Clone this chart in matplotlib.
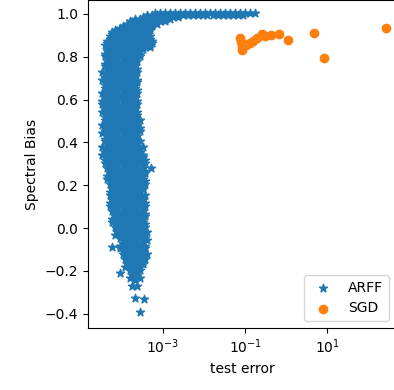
import matplotlib
matplotlib.use("Agg")
import matplotlib.pyplot as plt
import numpy as np
from matplotlib.ticker import NullLocator

# ARFF runs (spectral bias level -> test errors)
arff_bias_rows = [
    1.005, 0.995, 0.985, 0.975, 0.965, 0.955, 0.945, 0.935, 0.925, 0.915, 0.905,
    0.895, 0.885, 0.875, 0.865, 0.855, 0.845, 0.835, 0.825, 0.815, 0.805, 0.7925,
    0.78, 0.7675, 0.755, 0.7425, 0.73, 0.7175, 0.705, 0.6925, 0.68, 0.6675, 0.655,
    0.6425, 0.63, 0.6175, 0.605, 0.5925, 0.58, 0.5675, 0.555, 0.5425, 0.53, 0.5175,
    0.505, 0.4925, 0.48, 0.4675, 0.455, 0.4425, 0.43, 0.4175, 0.405, 0.3925, 0.38,
    0.3675, 0.355, 0.3425, 0.33, 0.3175, 0.305, 0.2925, 0.28, 0.2675, 0.255, 0.2425,
    0.23, 0.2175, 0.205, 0.1925, 0.18, 0.1675, 0.155, 0.1425, 0.13, 0.1175, 0.105,
    0.0925, 0.08, 0.0675, 0.055, 0.0425, 0.03, 0.0175, 0.005, -0.0075, -0.02, -0.0325,
    -0.045, -0.0575, -0.07, -0.0825, -0.095, -0.1075, -0.12, -0.1325, -0.145, -0.1575,
    -0.17, -0.1825, -0.195, -0.2075, -0.22, -0.2325, -0.245, -0.27]
arff_err_rows = [
    [6.40e-4, 8.47e-4, 1.12e-3, 1.48e-3, 1.96e-3, 2.60e-3, 3.44e-3, 4.55e-3, 6.03e-3, 7.97e-3,
     1.06e-2, 1.40e-2, 1.85e-2, 2.45e-2, 3.24e-2, 4.29e-2, 5.68e-2, 7.51e-2, 9.94e-2, 0.132, 0.174],
    [4.20e-4, 5.56e-4, 7.36e-4, 9.75e-4, 1.29e-3, 1.71e-3, 2.26e-3, 2.99e-3, 3.96e-3, 5.24e-3,
     6.93e-3, 9.17e-3, 1.21e-2, 1.61e-2, 2.13e-2, 2.82e-2, 3.73e-2, 4.93e-2, 6.53e-2, 8.64e-2],
    [3.18e-4, 4.20e-4, 5.56e-4, 7.36e-4, 9.75e-4, 1.29e-3, 1.71e-3, 2.26e-3],
    [2.08e-4, 2.76e-4, 3.65e-4, 4.84e-4, 6.40e-4, 8.47e-4, 1.12e-3, 1.48e-3],
    [1.58e-4, 2.08e-4, 2.76e-4, 3.65e-4, 4.84e-4, 6.40e-4, 8.47e-4, 1.12e-3],
    [1.37e-4, 1.81e-4, 2.40e-4, 3.18e-4, 4.20e-4, 5.56e-4, 7.36e-4],
    [1.04e-4, 1.37e-4, 1.81e-4, 2.40e-4, 3.18e-4, 4.20e-4, 5.56e-4],
    [9.00e-5, 1.19e-4, 1.58e-4, 2.08e-4, 2.76e-4, 3.65e-4, 4.84e-4],
    [6.80e-5, 9.00e-5, 1.19e-4, 1.58e-4, 2.08e-4, 2.76e-4, 3.65e-4, 4.84e-4],
    [5.91e-5, 7.82e-5, 1.04e-4, 1.37e-4, 1.81e-4, 2.40e-4, 3.18e-4, 4.20e-4],
    [5.91e-5, 7.82e-5, 1.04e-4, 1.37e-4, 1.81e-4, 2.40e-4, 3.18e-4, 4.20e-4],
    [5.13e-5, 6.80e-5, 9.00e-5, 1.19e-4, 1.58e-4, 2.08e-4, 2.76e-4, 3.65e-4, 4.84e-4],
    [5.13e-5, 6.80e-5, 9.00e-5, 1.19e-4, 1.58e-4, 2.08e-4, 2.76e-4, 3.65e-4, 4.84e-4],
    [4.46e-5, 5.91e-5, 7.82e-5, 1.04e-4, 1.37e-4, 1.81e-4, 2.40e-4, 3.18e-4, 4.20e-4, 5.56e-4],
    [4.46e-5, 5.91e-5, 7.82e-5, 1.04e-4, 1.37e-4, 1.81e-4, 2.40e-4, 3.18e-4, 4.20e-4, 5.56e-4],
    [3.88e-5, 5.13e-5, 6.80e-5, 9.00e-5, 1.19e-4, 1.58e-4, 2.08e-4, 2.76e-4, 3.65e-4, 4.84e-4],
    [5.13e-5, 6.80e-5, 9.00e-5, 1.19e-4, 1.58e-4, 2.08e-4, 2.76e-4, 3.65e-4, 4.84e-4],
    [4.46e-5, 5.91e-5, 7.82e-5, 1.04e-4, 1.37e-4, 1.81e-4, 2.40e-4, 3.18e-4],
    [4.46e-5, 5.91e-5, 7.82e-5, 1.04e-4, 1.37e-4, 1.81e-4, 2.40e-4],
    [3.88e-5, 5.13e-5, 6.80e-5, 9.00e-5, 1.19e-4, 1.58e-4, 2.08e-4, 2.76e-4],
    [3.88e-5, 5.13e-5, 6.80e-5, 9.00e-5, 1.19e-4, 1.58e-4, 2.08e-4, 2.76e-4],
    [4.46e-5, 5.91e-5, 7.82e-5, 1.04e-4, 1.37e-4, 1.81e-4, 2.40e-4],
    [4.46e-5, 5.91e-5, 7.82e-5, 1.04e-4, 1.37e-4, 1.81e-4, 2.40e-4],
    [3.88e-5, 5.13e-5, 6.80e-5, 9.00e-5, 1.19e-4, 1.58e-4, 2.08e-4],
    [3.88e-5, 5.13e-5, 6.80e-5, 9.00e-5, 1.19e-4, 1.58e-4, 2.08e-4],
    [4.46e-5, 5.91e-5, 7.82e-5, 1.04e-4, 1.37e-4, 1.81e-4, 2.40e-4],
    [3.37e-5, 4.46e-5, 5.91e-5, 7.82e-5, 1.04e-4, 1.37e-4, 1.81e-4, 2.40e-4],
    [3.88e-5, 5.13e-5, 6.80e-5, 9.00e-5, 1.19e-4, 1.58e-4, 2.08e-4],
    [3.88e-5, 5.13e-5, 6.80e-5, 9.00e-5, 1.19e-4, 1.58e-4, 2.08e-4],
    [3.37e-5, 4.46e-5, 5.91e-5, 7.82e-5, 1.04e-4, 1.37e-4, 1.81e-4, 2.40e-4],
    [4.46e-5, 5.91e-5, 7.82e-5, 1.04e-4, 1.37e-4, 1.81e-4, 2.40e-4],
    [3.88e-5, 5.13e-5, 6.80e-5, 9.00e-5, 1.19e-4, 1.58e-4, 2.08e-4],
    [3.88e-5, 5.13e-5, 6.80e-5, 9.00e-5, 1.19e-4, 1.58e-4, 2.08e-4],
    [4.46e-5, 5.91e-5, 7.82e-5, 1.04e-4, 1.37e-4, 1.81e-4, 2.40e-4],
    [3.37e-5, 4.46e-5, 5.91e-5, 7.82e-5, 1.04e-4, 1.37e-4, 1.81e-4, 2.40e-4],
    [3.88e-5, 5.13e-5, 6.80e-5, 9.00e-5, 1.19e-4, 1.58e-4, 2.08e-4],
    [3.88e-5, 5.13e-5, 6.80e-5, 9.00e-5, 1.19e-4, 1.58e-4, 2.08e-4],
    [3.37e-5, 4.46e-5, 5.91e-5, 7.82e-5, 1.04e-4, 1.37e-4, 1.81e-4, 2.40e-4],
    [3.37e-5, 4.46e-5, 5.91e-5, 7.82e-5, 1.04e-4, 1.37e-4, 1.81e-4, 2.40e-4],
    [3.88e-5, 5.13e-5, 6.80e-5, 9.00e-5, 1.19e-4, 1.58e-4, 2.08e-4],
    [3.88e-5, 5.13e-5, 6.80e-5, 9.00e-5, 1.19e-4, 1.58e-4, 2.08e-4],
    [3.37e-5, 4.46e-5, 5.91e-5, 7.82e-5, 1.04e-4, 1.37e-4, 1.81e-4, 2.40e-4],
    [4.46e-5, 5.91e-5, 7.82e-5, 1.04e-4, 1.37e-4, 1.81e-4, 2.40e-4],
    [3.88e-5, 5.13e-5, 6.80e-5, 9.00e-5, 1.19e-4, 1.58e-4, 2.08e-4],
    [3.88e-5, 5.13e-5, 6.80e-5, 9.00e-5, 1.19e-4, 1.58e-4, 2.08e-4, 2.76e-4],
    [4.46e-5, 5.91e-5, 7.82e-5, 1.04e-4, 1.37e-4, 1.81e-4, 2.40e-4],
    [3.37e-5, 4.46e-5, 5.91e-5, 7.82e-5, 1.04e-4, 1.37e-4, 1.81e-4, 2.40e-4],
    [3.88e-5, 5.13e-5, 6.80e-5, 9.00e-5, 1.19e-4, 1.58e-4, 2.08e-4, 2.76e-4],
    [3.88e-5, 5.13e-5, 6.80e-5, 9.00e-5, 1.19e-4, 1.58e-4, 2.08e-4, 2.76e-4],
    [3.37e-5, 4.46e-5, 5.91e-5, 7.82e-5, 1.04e-4, 1.37e-4, 1.81e-4, 2.40e-4],
    [4.46e-5, 5.91e-5, 7.82e-5, 1.04e-4, 1.37e-4, 1.81e-4, 2.40e-4],
    [3.88e-5, 5.13e-5, 6.80e-5, 9.00e-5, 1.19e-4, 1.58e-4, 2.08e-4],
    [3.88e-5, 5.13e-5, 6.80e-5, 9.00e-5, 1.19e-4, 1.58e-4, 2.08e-4, 2.76e-4],
    [4.46e-5, 5.91e-5, 7.82e-5, 1.04e-4, 1.37e-4, 1.81e-4, 2.40e-4],
    [3.37e-5, 4.46e-5, 5.91e-5, 7.82e-5, 1.04e-4, 1.37e-4, 1.81e-4, 2.40e-4, 3.18e-4],
    [3.88e-5, 5.13e-5, 6.80e-5, 9.00e-5, 1.19e-4, 1.58e-4, 2.08e-4, 2.76e-4],
    [3.88e-5, 5.13e-5, 6.80e-5, 9.00e-5, 1.19e-4, 1.58e-4, 2.08e-4, 2.76e-4],
    [3.37e-5, 4.46e-5, 5.91e-5, 7.82e-5, 1.04e-4, 1.37e-4, 1.81e-4, 2.40e-4, 3.18e-4],
    [4.46e-5, 5.91e-5, 7.82e-5, 1.04e-4, 1.37e-4, 1.81e-4, 2.40e-4, 3.18e-4],
    [3.88e-5, 5.13e-5, 6.80e-5, 9.00e-5, 1.19e-4, 1.58e-4, 2.08e-4, 2.76e-4, 3.65e-4],
    [3.88e-5, 5.13e-5, 6.80e-5, 9.00e-5, 1.19e-4, 1.58e-4, 2.08e-4, 2.76e-4, 3.65e-4],
    [4.46e-5, 5.91e-5, 7.82e-5, 1.04e-4, 1.37e-4, 1.81e-4, 2.40e-4, 3.18e-4],
    [4.46e-5, 5.91e-5, 7.82e-5, 1.04e-4, 1.37e-4, 1.81e-4, 2.40e-4, 3.18e-4],
    [5.13e-5, 6.80e-5, 9.00e-5, 1.19e-4, 1.58e-4, 2.08e-4, 2.76e-4, 3.65e-4],
    [5.13e-5, 6.80e-5, 9.00e-5, 1.19e-4, 1.58e-4, 2.08e-4, 2.76e-4, 3.65e-4],
    [4.46e-5, 5.91e-5, 7.82e-5, 1.04e-4, 1.37e-4, 1.81e-4, 2.40e-4, 3.18e-4],
    [4.46e-5, 5.91e-5, 7.82e-5, 1.04e-4, 1.37e-4, 1.81e-4, 2.40e-4, 3.18e-4],
    [5.13e-5, 6.80e-5, 9.00e-5, 1.19e-4, 1.58e-4, 2.08e-4, 2.76e-4, 3.65e-4],
    [5.13e-5, 6.80e-5, 9.00e-5, 1.19e-4, 1.58e-4, 2.08e-4, 2.76e-4, 3.65e-4],
    [5.91e-5, 7.82e-5, 1.04e-4, 1.37e-4, 1.81e-4, 2.40e-4, 3.18e-4],
    [5.91e-5, 7.82e-5, 1.04e-4, 1.37e-4, 1.81e-4, 2.40e-4, 3.18e-4],
    [5.13e-5, 6.80e-5, 9.00e-5, 1.19e-4, 1.58e-4, 2.08e-4, 2.76e-4],
    [5.13e-5, 6.80e-5, 9.00e-5, 1.19e-4, 1.58e-4, 2.08e-4, 2.76e-4, 3.65e-4],
    [5.91e-5, 7.82e-5, 1.04e-4, 1.37e-4, 1.81e-4, 2.40e-4, 3.18e-4],
    [5.91e-5, 7.82e-5, 1.04e-4, 1.37e-4, 1.81e-4, 2.40e-4, 3.18e-4],
    [5.13e-5, 6.80e-5, 9.00e-5, 1.19e-4, 1.58e-4, 2.08e-4, 2.76e-4, 3.65e-4],
    [5.13e-5, 6.80e-5, 9.00e-5, 1.19e-4, 1.58e-4, 2.08e-4, 2.76e-4, 3.65e-4],
    [5.91e-5, 7.82e-5, 1.04e-4, 1.37e-4, 1.81e-4, 2.40e-4, 3.18e-4],
    [5.91e-5, 7.82e-5, 1.04e-4, 1.37e-4, 1.81e-4, 2.40e-4, 3.18e-4],
    [6.80e-5, 9.00e-5, 1.19e-4, 1.58e-4, 2.08e-4, 2.76e-4, 3.65e-4],
    [6.80e-5, 9.00e-5, 1.19e-4, 1.58e-4, 2.08e-4, 2.76e-4, 3.65e-4],
    [5.91e-5, 7.82e-5, 1.04e-4, 1.37e-4, 1.81e-4, 2.40e-4, 3.18e-4],
    [5.91e-5, 7.82e-5, 1.04e-4, 1.37e-4, 1.81e-4, 2.40e-4, 3.18e-4],
    [6.80e-5, 9.00e-5, 1.19e-4, 1.58e-4, 2.08e-4, 2.76e-4, 3.65e-4],
    [6.80e-5, 9.00e-5, 1.19e-4, 1.58e-4, 2.08e-4, 2.76e-4, 3.65e-4],
    [7.82e-5, 1.04e-4, 1.37e-4, 1.81e-4, 2.40e-4, 3.18e-4],
    [7.82e-5, 1.04e-4, 1.37e-4, 1.81e-4, 2.40e-4, 3.18e-4, 4.20e-4],
    [6.80e-5, 9.00e-5, 1.19e-4, 1.58e-4, 2.08e-4, 2.76e-4, 3.65e-4],
    [9.00e-5, 1.19e-4, 1.58e-4, 2.08e-4, 2.76e-4, 3.65e-4],
    [1.04e-4, 1.37e-4, 1.81e-4, 2.40e-4, 3.18e-4, 4.20e-4],
    [1.04e-4, 1.37e-4, 1.81e-4, 2.40e-4, 3.18e-4],
    [9.00e-5, 1.19e-4, 1.58e-4, 2.08e-4, 2.76e-4, 3.65e-4],
    [9.00e-5, 1.19e-4, 1.58e-4, 2.08e-4, 2.76e-4, 3.65e-4],
    [1.04e-4, 1.37e-4, 1.81e-4, 2.40e-4, 3.18e-4],
    [1.04e-4, 1.37e-4, 1.81e-4, 2.40e-4, 3.18e-4, 4.20e-4],
    [1.19e-4, 1.58e-4, 2.08e-4, 2.76e-4, 3.65e-4],
    [1.19e-4, 1.58e-4, 2.08e-4, 2.76e-4, 3.65e-4],
    [1.37e-4, 1.81e-4, 2.40e-4, 3.18e-4],
    [1.37e-4, 1.81e-4, 2.40e-4, 3.18e-4],
    [1.19e-4, 1.58e-4, 2.08e-4, 2.76e-4],
    [1.58e-4, 2.08e-4, 2.76e-4],
    [1.81e-4, 2.40e-4],
    [1.81e-4, 2.40e-4],
    [1.58e-4, 2.08e-4, 2.76e-4],
    [2.08e-4],
    [1.81e-4, 2.40e-4],
]
# stray ARFF stars away from the main band
arff_extra_err = [5.6e-5, 9.0e-5, 2.05e-4, 3.45e-4, 2.71e-4, 5.0e-4]
arff_extra_bias = [-0.089, -0.210, -0.329, -0.333, -0.391, 0.279]

# SGD runs
sgd_err = [0.075, 0.077, 0.082, 0.085, 0.105, 0.131, 0.155, 0.194, 0.256, 0.303,
           0.425, 0.664, 1.10, 4.72, 8.27, 262.0]
sgd_bias = [0.886, 0.868, 0.845, 0.832, 0.855, 0.864, 0.874, 0.886, 0.907, 0.897,
            0.902, 0.904, 0.879, 0.910, 0.793, 0.936]

arff_err = np.concatenate([np.array(r) for r in arff_err_rows] + [np.array(arff_extra_err)])
arff_bias = np.concatenate([np.full(len(r), b) for r, b in zip(arff_err_rows, arff_bias_rows)]
                           + [np.array(arff_extra_bias)])

fig = plt.figure(figsize=(3.94, 3.90), dpi=100)
ax = fig.add_axes([88 / 394, 62 / 390, 308 / 394, 328 / 390])

ax.scatter(arff_err, arff_bias, marker="*", label="ARFF")
ax.scatter(sgd_err, sgd_bias, label="SGD")

ax.set_xscale("log")
ax.set_xlim(1.5e-5, 467)
ax.set_ylim(-0.467, 1.065)
ax.set_xticks([1e-3, 1e-1, 1e1])
ax.xaxis.set_minor_locator(NullLocator())
ax.set_yticks([-0.4, -0.2, 0.0, 0.2, 0.4, 0.6, 0.8, 1.0])

ax.set_xlabel("test error")
ax.set_ylabel("Spectral Bias")
ax.legend(loc="lower right")

fig.savefig("out.png", dpi=100)
